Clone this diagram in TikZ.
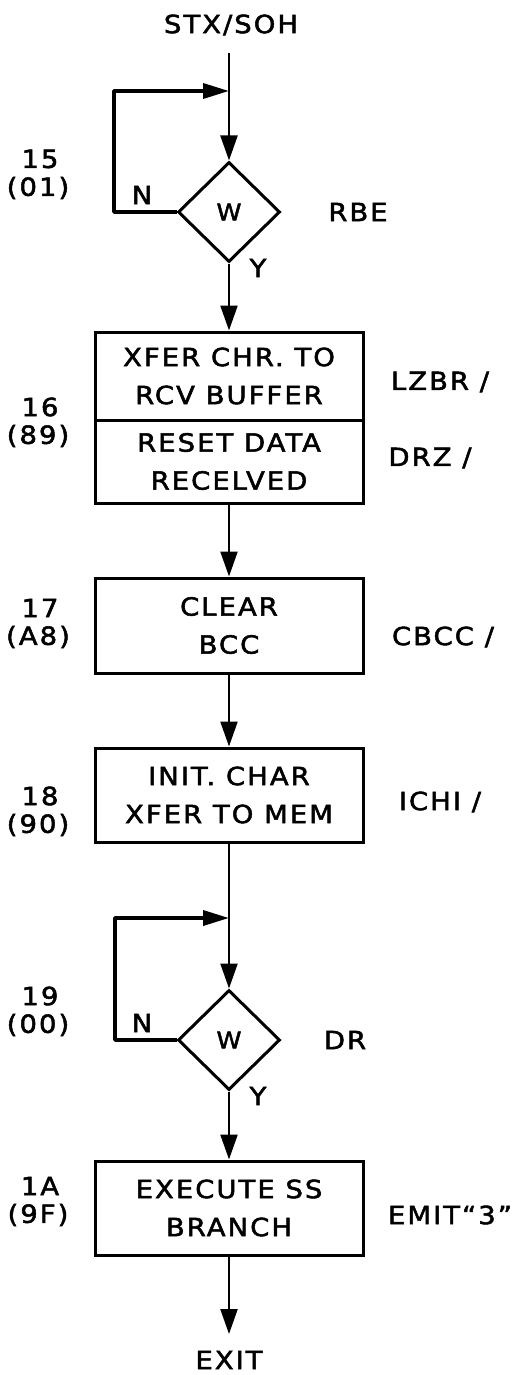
\documentclass[tikz,border=0pt]{standalone}
\usepackage{fontspec}
\usetikzlibrary{shapes.geometric,arrows.meta}
\newfontfamily\hand[FakeStretch=1.1,LetterSpace=8,FakeBold=2]{DejaVu Sans}
\begin{document}
\begin{tikzpicture}[x=1pt,y=-1pt,
  txt/.style={font=\hand\fontsize{25}{38}\selectfont, inner sep=0pt, align=center},
  box/.style={draw, line width=3pt, minimum width=268pt, inner sep=0pt, align=center,
              font=\hand\fontsize{25}{38}\selectfont},
  dec/.style={draw, diamond, line width=3pt, minimum width=102pt, minimum height=100pt,
              inner sep=0pt, font=\hand\fontsize{23}{23}\selectfont},
  flow/.style={line width=2.3pt, -{Triangle[length=25pt,width=17pt]}},
  back/.style={line width=3.6pt, line join=round, -{Triangle[length=26pt,width=15pt]}},
]
\useasboundingbox (0,0) rectangle (516,1375);

% start
\node[txt] (stx) at (231,25) {STX/SOH};
\coordinate (s1) at (229,53);
\coordinate (J1) at (229,91);
\coordinate (L1) at (114,91);

% decision 15
\node[dec] (D1) at (229,212) {W};
\node[txt] (n1) at (142,195) {N};
\node[txt] (y1) at (258,268) {Y};
\node[txt] (rbe) at (358,212) {RBE};
\node[txt] (l15) at (40,159) {15};
\node[txt] (l15b) at (38,188) {(01)};

\draw[flow] (s1) -- (D1.north);
\draw[back] (D1.west) -| (L1) -- (J1);

% box 16
\node[box, minimum height=88pt] (B1a) at (229,376) {XFER CHR. TO\\RCV BUFFER};
\node[box, minimum height=83pt] (B1b) at (229,461.5) {RESET DATA\\RECELVED};
\node[txt] (lzbr) at (440,382) {LZBR /};
\node[txt] (drz) at (430,458) {DRZ /};
\node[txt] (l16) at (40,407) {16};
\node[txt] (l16b) at (38,436) {(89)};

\draw[flow] (D1.south) -- (B1a.north);

% box 17
\node[box, minimum height=95pt] (B2) at (229,625.5) {CLEAR\\BCC};
\node[txt] (cbcc) at (443,637) {CBCC /};
\node[txt] (l17) at (40,608) {17};
\node[txt] (l17b) at (38,637) {(A8)};

\draw[flow] (B1b.south) -- (B2.north);

% box 18
\node[box, minimum height=94pt] (B3) at (229,795) {INIT. CHAR\\XFER TO MEM};
\node[txt] (ichi) at (440,802) {ICHI /};
\node[txt] (l18) at (40,796) {18};
\node[txt] (l18b) at (38,825) {(90)};

\draw[flow] (B2.south) -- (B3.north);

% decision 19
\coordinate (J2) at (229,918);
\coordinate (L2) at (115,918);
\node[dec] (D2) at (229,1040) {W};
\node[txt] (n2) at (142,1023) {N};
\node[txt] (y2) at (258,1096) {Y};
\node[txt] (dr) at (345,1040) {DR};
\node[txt] (l19) at (40,996) {19};
\node[txt] (l19b) at (38,1025) {(00)};

\draw[flow] (B3.south) -- (D2.north);
\draw[back] (D2.west) -| (L2) -- (J2);

% box 1A
\node[box, minimum height=94pt] (B4) at (229,1208) {EXECUTE SS\\BRANCH};
\node[txt] (emit) at (450,1215) {EMIT“3”};
\node[txt] (l1a) at (40,1186) {1A};
\node[txt] (l1ab) at (38,1215) {(9F)};

\draw[flow] (D2.south) -- (B4.north);

% exit
\node[txt] (exit) at (229,1360) {EXIT};
\draw[flow, shorten >=26pt] (B4.south) -- (exit.center);
\end{tikzpicture}
\end{document}
